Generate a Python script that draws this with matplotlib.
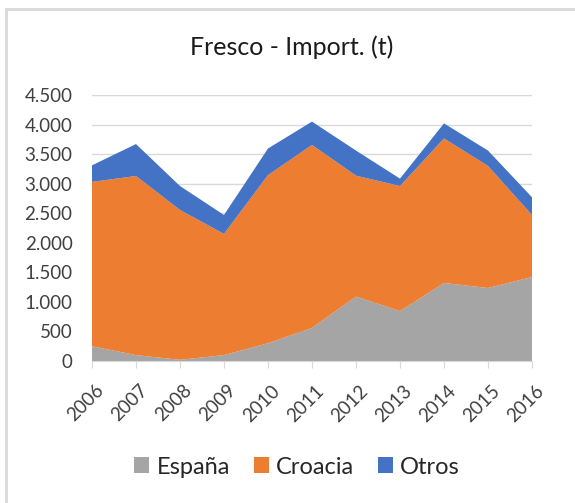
import numpy as np
import matplotlib.pyplot as plt
import matplotlib.transforms as mtransforms
from matplotlib.patches import Rectangle
from matplotlib.ticker import FuncFormatter

years = [2006, 2007, 2008, 2009, 2010, 2011, 2012, 2013, 2014, 2015, 2016]
espana = [250, 100, 20, 100, 300, 560, 1090, 845, 1320, 1235, 1420]
croacia = [2780, 3030, 2535, 2050, 2845, 3095, 2045, 2115, 2445, 2065, 1050]
otros = [280, 540, 405, 320, 450, 395, 425, 125, 255, 260, 300]
labels = ['España', 'Croacia', 'Otros']
colors = ['#A5A5A5', '#ED7D31', '#4472C4']

plt.rcParams['font.family'] = ['Lato', 'DejaVu Sans']

fig = plt.figure(figsize=(5.75, 5.03), dpi=100)
ax = fig.add_axes([92 / 575, 1 - 361 / 503, 440 / 575, 266 / 503])

ax.stackplot(years, espana, croacia, otros, labels=labels, colors=colors, linewidth=0)

ax.set_xlim(years[0], years[-1])
ax.set_ylim(0, 4500)
ax.set_yticks(np.arange(0, 4501, 500))
ax.yaxis.set_major_formatter(FuncFormatter(lambda v, p: f'{int(v):,}'.replace(',', '.')))
ax.set_xticks(years)
ax.set_xticklabels([str(y) for y in years], rotation=45, ha='right', rotation_mode='anchor')

ax.grid(axis='y', color='#D9D9D9', linewidth=1)
ax.set_axisbelow(True)
for s in ['top', 'right', 'left']:
    ax.spines[s].set_visible(False)
ax.spines['bottom'].set_color('#D9D9D9')
ax.tick_params(axis='y', length=0, labelsize=13.5, colors='#404040', pad=14)
ax.tick_params(axis='x', length=5, color='#D9D9D9', labelsize=13.5, labelcolor='#404040', pad=10)

# nudge year labels a little to the right, like the excel output
shift = mtransforms.ScaledTranslation(3 / 100, 0, fig.dpi_scale_trans)
for lbl in ax.get_xticklabels():
    lbl.set_transform(lbl.get_transform() + shift)

fig.text(292 / 575, 1 - 47 / 503, 'Fresco - Import. (t)', ha='center', va='center',
         fontsize=18, color='#1a1a1a')

handles, lbls = ax.get_legend_handles_labels()
fig.legend(handles, lbls, loc='center', bbox_to_anchor=(297 / 575, 1 - 467 / 503), ncol=3,
           frameon=False, fontsize=17, handlelength=0.65, handleheight=0.65,
           handletextpad=0.3, columnspacing=1.0, labelcolor='#262626')

# chart border (only top and left edges visible in the crop)
fig.patches.append(Rectangle((6 / 575, -0.1), 1.1, 1 - 9 / 503 + 0.1, transform=fig.transFigure,
                             fill=False, edgecolor='#D9D9D9', linewidth=2))

plt.savefig('out.png', dpi=100)
plt.close()
